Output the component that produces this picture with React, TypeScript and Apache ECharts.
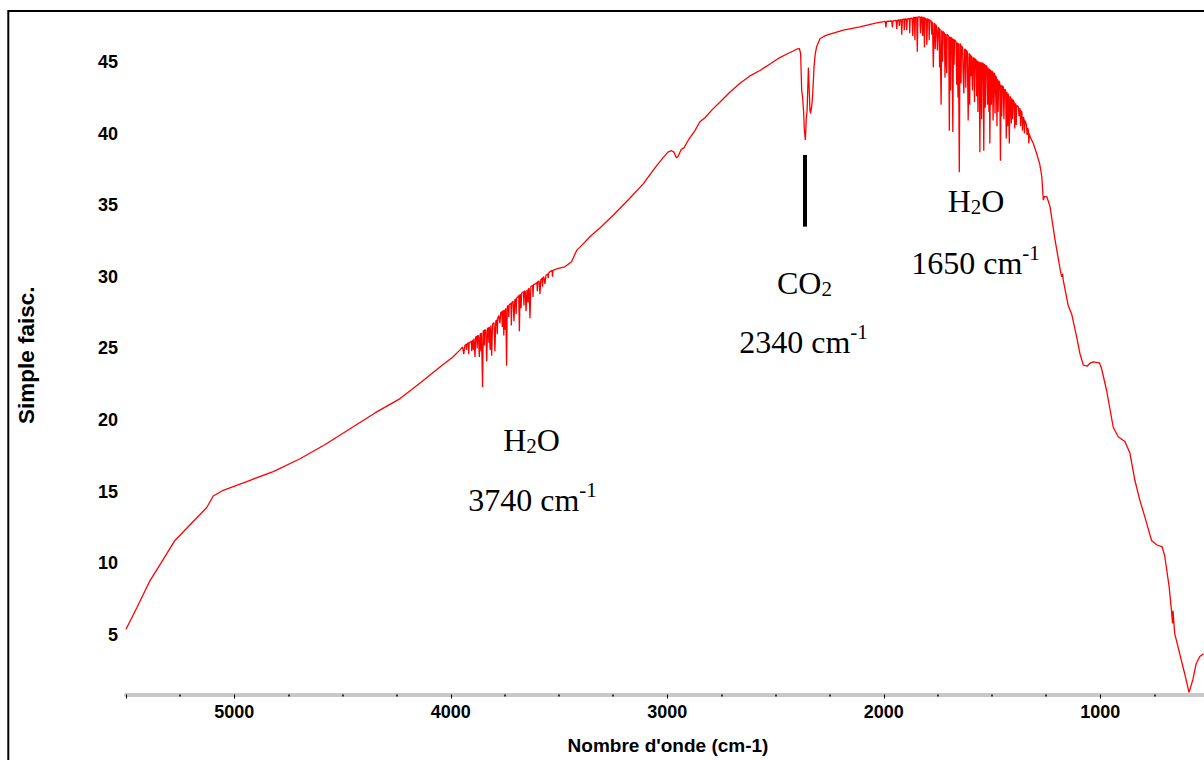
import React, { useEffect, useRef } from 'react';
import * as echarts from 'echarts';

// ---- Spectrum data: [wavenumber (cm-1), single-beam intensity] ----
const highWaveRegion: number[][] = [
  [5500, 5.4], [5450, 6.9], [5389, 8.8], [5335, 10.1], [5274, 11.6], [5204, 12.7],
  [5127, 13.9], [5097, 14.7], [5051, 15.1], [4927, 15.8], [4820, 16.4], [4696, 17.3],
  [4580, 18.3], [4465, 19.4], [4350, 20.5], [4234, 21.5], [4140, 22.6], [4050, 23.7],
  [3990, 24.4], [3957, 24.9],
];

const waterStretchRegion: number[][] = [
  [3945, 25.1], [3940, 24.6], [3935, 25.2], [3929, 25.3], [3927, 24.9], [3925, 25.3],
  [3919, 25.4], [3917, 24.6], [3915, 25.4], [3905, 25.5], [3903, 24.8], [3900, 25.6],
  [3897, 25.6], [3895, 24.9], [3893, 25.7], [3890, 25.7], [3888, 24.4], [3885, 25.8],
  [3880, 25.85], [3878, 25.0], [3876, 25.9], [3872, 25.9], [3868, 24.4], [3864, 26.0],
  [3862, 26.05], [3860, 24.8], [3858, 26.1], [3856, 26.1], [3853, 22.3], [3850, 26.2],
  [3847, 26.25], [3845, 25.2], [3843, 26.3], [3838, 26.3], [3834, 24.1], [3830, 26.4],
  [3826, 26.45], [3824, 25.4], [3822, 26.5], [3820, 26.5], [3818, 24.9], [3815, 26.6],
  [3811, 24.5], [3807, 26.7], [3800, 26.8], [3796, 24.8], [3792, 26.9], [3787, 27.0],
  [3785, 26.0], [3783, 27.1], [3778, 27.3], [3773, 26.75], [3769, 27.5], [3764, 27.55],
  [3762, 26.5], [3760, 27.6], [3757, 27.65], [3755, 25.9], [3752, 27.7], [3749, 26.3],
  [3746, 27.8], [3744, 27.8], [3742, 23.8], [3739, 27.9], [3734, 28.0], [3732, 27.2],
  [3730, 28.05], [3725, 28.1], [3722, 28.15], [3720, 26.6], [3718, 28.2], [3712, 28.3],
  [3708, 26.9], [3704, 28.4], [3700, 28.45], [3698, 27.4], [3696, 28.5], [3690, 28.6],
  [3686, 28.7], [3683, 26.2], [3680, 28.8], [3677, 28.8], [3675, 27.8], [3673, 28.85],
  [3668, 28.9], [3664, 28.95], [3662, 28.0], [3660, 29.0], [3656, 29.0], [3652, 27.6],
  [3648, 29.1], [3645, 29.1], [3643, 28.2], [3641, 29.15], [3638, 29.2], [3634, 27.1],
  [3630, 29.3], [3622, 29.4], [3620, 28.6], [3618, 29.45], [3610, 29.5], [3602, 29.6],
  [3600, 29.0], [3598, 29.65], [3592, 29.7], [3588, 28.8], [3584, 29.8], [3578, 29.9],
  [3576, 29.3], [3574, 29.95], [3570, 30.0], [3565, 29.5], [3560, 30.1], [3552, 30.2],
  [3550, 29.9], [3548, 30.25], [3542, 30.35], [3532, 30.45], [3530, 30.0], [3528, 30.45],
  [3520, 30.5], [3503, 30.58], [3473, 30.7], [3442, 31.05], [3418, 31.86],
];

const midRegion: number[][] = [
  [3403, 32.07], [3350, 32.9], [3311, 33.4], [3250, 34.3], [3172, 35.5], [3110, 36.5],
  [3057, 37.6], [3020, 38.3], [2997, 38.7], [2980, 38.8], [2969, 38.7], [2958, 38.3],
  [2950, 38.4], [2935, 38.9], [2923, 39.0], [2900, 39.6], [2872, 40.2], [2850, 40.8],
  [2826, 41.1], [2790, 41.7], [2756, 42.2], [2710, 42.9], [2664, 43.5], [2620, 44.0],
  [2572, 44.4], [2520, 44.9], [2480, 45.3], [2440, 45.6], [2400, 45.9],
];

const co2Region: number[][] = [
  [2390, 45.93], [2384, 45.6], [2379, 43.0], [2375, 42.56], [2370, 41.5], [2367, 40.35],
  [2362, 39.54], [2358, 41.0], [2354, 41.63], [2348, 44.6], [2344, 43.0], [2341, 41.63],
  [2338, 41.4], [2332, 42.0], [2328, 42.8], [2322, 44.65], [2316, 45.6], [2310, 46.05],
  [2294, 46.63], [2264, 46.86], [2187, 47.21], [2110, 47.44], [2033, 47.72],
];

const waterBendRegion: number[][] = [
  [2000, 47.8], [1993, 47.82], [1990, 47.4], [1987, 47.83], [1963, 47.85], [1960, 47.4],
  [1957, 47.86], [1943, 47.9], [1940, 47.3], [1937, 47.9], [1930, 47.92], [1928, 47.5],
  [1926, 47.93], [1920, 47.95], [1917, 46.9], [1914, 47.97], [1907, 47.98], [1905, 47.2],
  [1903, 47.99], [1897, 48.0], [1894, 47.2], [1891, 48.0], [1882, 48.02], [1880, 47.0],
  [1878, 48.03], [1869, 48.05], [1866, 46.8], [1863, 48.1], [1858, 48.1], [1856, 46.5],
  [1854, 48.11], [1848, 48.12], [1845, 45.7], [1842, 48.14], [1833, 48.14], [1830, 47.0],
  [1827, 48.13], [1823, 48.12], [1820, 46.8], [1817, 48.1], [1814, 48.08], [1812, 46.0],
  [1810, 48.06], [1804, 48.0], [1801, 46.2], [1798, 48.0], [1792, 47.95], [1790, 46.5],
  [1788, 47.92], [1781, 47.85], [1778, 46.9], [1775, 47.8], [1771, 44.6], [1767, 47.7],
  [1764, 47.65], [1762, 45.9], [1760, 47.6], [1756, 47.5], [1752, 45.8], [1748, 47.4],
  [1744, 47.35], [1742, 44.6], [1740, 47.3], [1738, 47.3], [1735, 42.0], [1732, 47.2],
  [1730, 47.18], [1728, 45.0], [1726, 47.12], [1720, 47.0], [1717, 43.9], [1714, 46.95],
  [1711, 46.95], [1709, 44.2], [1707, 46.92], [1700, 46.8], [1697, 40.2], [1694, 46.75],
  [1693, 46.72], [1691, 43.0], [1689, 46.7], [1684, 46.65], [1681, 40.1], [1678, 46.6],
  [1677, 46.58], [1675, 44.8], [1673, 46.55], [1666, 46.4], [1663, 43.4], [1660, 46.35],
  [1659, 46.33], [1657, 42.5], [1655, 46.3], [1654, 46.3], [1651, 37.3], [1648, 46.28],
  [1645, 46.2], [1643, 43.5], [1641, 46.12], [1636, 46.0], [1633, 44.0], [1630, 42.8],
  [1627, 45.9], [1623, 45.87], [1621, 43.2], [1619, 45.82], [1614, 45.7], [1610, 40.9],
  [1606, 45.6], [1605, 45.55], [1603, 42.0], [1601, 45.5], [1598, 45.45], [1596, 44.0],
  [1594, 45.42], [1592, 45.4], [1590, 43.0], [1587, 45.3], [1583, 45.25], [1581, 42.2],
  [1579, 45.22], [1574, 45.15], [1571, 42.6], [1568, 45.1], [1567, 45.08], [1565, 41.5],
  [1563, 45.02], [1559, 44.95], [1556, 38.7], [1553, 44.95], [1550, 44.93], [1548, 41.0],
  [1546, 44.92], [1541, 44.9], [1538, 38.8], [1535, 44.85], [1533, 44.8], [1531, 41.8],
  [1529, 44.75], [1524, 44.7], [1521, 42.0], [1518, 44.6], [1516, 44.58], [1514, 41.5],
  [1512, 44.52], [1510, 39.3], [1507, 44.45], [1505, 44.42], [1503, 42.0], [1501, 44.38],
  [1498, 44.3], [1495, 40.9], [1492, 44.25], [1488, 44.15], [1486, 41.4], [1484, 44.05],
  [1480, 43.9], [1478, 43.87], [1477, 40.5], [1475, 43.8], [1472, 41.5], [1469, 43.7],
  [1464, 43.5], [1461, 38.1], [1458, 43.4], [1457, 43.38], [1455, 41.2], [1453, 43.33],
  [1448, 43.26], [1445, 41.0], [1442, 43.1], [1437, 43.0], [1434, 39.65], [1431, 42.9],
  [1430, 42.88], [1428, 40.5], [1426, 42.78], [1424, 42.7], [1420, 39.3], [1417, 42.6],
  [1414, 42.5], [1411, 40.7], [1408, 42.45], [1407, 42.42], [1405, 41.0], [1403, 42.36],
  [1398, 42.2], [1395, 40.35], [1392, 42.1], [1390, 42.05], [1388, 40.6], [1386, 41.95],
  [1378, 41.85], [1375, 41.2], [1372, 41.75], [1370, 41.7], [1368, 40.5], [1366, 41.58],
  [1362, 41.5], [1359, 40.2], [1356, 41.16], [1352, 41.0], [1350, 40.0], [1348, 40.9],
  [1345, 40.8], [1341, 40.6], [1338, 39.9], [1335, 40.4], [1332, 40.2], [1330, 39.3],
  [1328, 40.0], [1325, 39.8], [1309, 39.3], [1294, 38.6], [1280, 37.9], [1270, 37.0],
];

const lowWaveRegion: number[][] = [
  [1263, 35.35], [1258, 35.6], [1247, 35.6], [1232, 34.9], [1209, 32.6], [1185, 30.5],
  [1178, 30.0], [1174, 30.2], [1171, 29.77], [1148, 28.0], [1132, 27.4], [1109, 25.8],
  [1094, 24.65], [1078, 23.84], [1060, 23.77], [1045, 24.0], [1032, 24.07], [1004, 24.0],
  [994, 23.6], [971, 22.1], [940, 19.5], [917, 18.84], [886, 18.5], [863, 17.7],
  [840, 15.8], [817, 14.4], [794, 13.25], [763, 11.6], [740, 11.3], [714, 11.16],
  [702, 10.5], [682, 8.4], [671, 6.7], [666, 5.8], [664, 6.7], [656, 5.1], [633, 3.7],
  [610, 2.3], [590, 1.0], [572, 1.9], [557, 3.0], [540, 3.5], [523, 3.7],
];

// CO2 marker bar, in data units
const co2MarkerWavenumber = 2365;
const co2MarkerRange = [38.5, 33.5];

// Axis ranges
const xRange = [0, 5500];
const yRange = [0.85, 48.2];

// Annotation texts: [text, kind]
const annotationTexts: [string, string][][] = [
  [['H', 'n'], ['2', 'sub'], ['O', 'n']],
  [['3740 cm', 'n'], ['-1', 'sup']],
  [['CO', 'n'], ['2', 'sub']],
  [['2340 cm', 'n'], ['-1', 'sup']],
  [['H', 'n'], ['2', 'sub'], ['O', 'n']],
  [['1650 cm', 'n'], ['-1', 'sup']],
];
// layout (pixel centres) of the annotations
const annotationCenters = [
  [531.5, 440], [532.5, 500], [804.5, 283], [803.5, 342], [976, 201], [975.5, 263],
];

const SANS = '"Liberation Sans", Arial, sans-serif';
const SERIF = '"Liberation Serif", "Times New Roman", serif';
const MAIN_SIZE = 32;
const SMALL_SIZE = 21;
const CHART_W = 1330;

function buildAnnotation(parts: [string, string][], cx: number, cy: number) {
  const ctx = document.createElement('canvas').getContext('2d')!;
  const widths = parts.map(([t, k]) => {
    ctx.font = `${k === 'n' ? MAIN_SIZE : SMALL_SIZE}px ${SERIF}`;
    return ctx.measureText(t).width;
  });
  const total = widths.reduce((a, b) => a + b, 0);
  let x = cx - total / 2;
  return parts.map(([t, k], i) => {
    const el = {
      type: 'text',
      x,
      y: cy + (k === 'sub' ? 5.5 : k === 'sup' ? -10 : 0),
      silent: true,
      style: {
        text: t,
        fill: '#000',
        fontSize: k === 'n' ? MAIN_SIZE : SMALL_SIZE,
        fontFamily: SERIF,
        align: 'left',
        verticalAlign: 'middle',
      },
    };
    x += widths[i];
    return el;
  });
}

export default function App() {
  const ref = useRef<HTMLDivElement>(null);

  useEffect(() => {
    document.body.style.margin = '0';
    const chart = echarts.init(ref.current!, null, { renderer: 'svg' });
    const data = [
      ...highWaveRegion,
      ...waterStretchRegion,
      ...midRegion,
      ...co2Region,
      ...waterBendRegion,
      ...lowWaveRegion,
    ];

    const graphics: any[] = [
      {
        type: 'rect',
        silent: true,
        shape: { x: 8.3, y: 11, width: 1300, height: 800 },
        style: { fill: 'transparent', stroke: '#000', lineWidth: 2 },
      },
      {
        type: 'text',
        x: 668,
        y: 745,
        silent: true,
        style: {
          text: "Nombre d'onde (cm-1)",
          fill: '#000',
          fontSize: 19,
          fontWeight: 'bold',
          fontFamily: SANS,
          align: 'center',
          verticalAlign: 'middle',
        },
      },
    ];
    annotationTexts.forEach((parts, i) => {
      graphics.push(...buildAnnotation(parts, annotationCenters[i][0], annotationCenters[i][1]));
    });

    chart.setOption({
      animation: false,
      backgroundColor: '#ffffff',
      grid: { left: 126, top: 16, width: 1190.75, height: 678.5, outerBoundsMode: 'none' },
      xAxis: {
        type: 'value',
        inverse: true,
        min: xRange[0],
        max: xRange[1],
        interval: 1000,
        axisLine: { show: true, lineStyle: { color: '#c8c8c8', width: 4 } },
        axisTick: { show: true, length: 4, lineStyle: { color: '#000', width: 1 } },
        minorTick: { show: true, splitNumber: 4, length: 2, lineStyle: { color: '#000', width: 1.5 } },
        splitLine: { show: false },
        axisLabel: {
          margin: 8,
          color: '#000',
          fontSize: 18,
          fontWeight: 'bold',
          fontFamily: SANS,
          formatter: (v: number) => (v > 0 && v % 1000 === 0 ? String(v) : ''),
        },
      },
      yAxis: {
        type: 'value',
        min: yRange[0],
        max: yRange[1],
        splitNumber: 10,
        minInterval: 5,
        maxInterval: 5,
        name: 'Simple faisc.',
        nameLocation: 'middle',
        nameGap: 88,
        nameTextStyle: { color: '#000', fontSize: 22.5, fontWeight: 'bold', fontFamily: SANS },
        axisLine: { show: true, lineStyle: { color: '#c8c8c8', width: 4 } },
        axisTick: { show: true, length: 4, lineStyle: { color: '#000', width: 1 } },
        minorTick: { show: true, splitNumber: 5, length: 2, lineStyle: { color: '#000', width: 1.5 } },
        splitLine: { show: false },
        axisLabel: {
          margin: 8,
          color: '#000',
          fontSize: 18,
          fontWeight: 'bold',
          fontFamily: SANS,
          formatter: (v: number) => (Math.abs(v % 5) < 1e-9 && v > 0 ? String(v) : ''),
        },
      },
      series: [
        {
          type: 'line',
          data,
          showSymbol: false,
          symbol: 'none',
          silent: true,
          lineStyle: { color: '#ff0000', width: 1.3 },
          markLine: {
            silent: true,
            symbol: ['none', 'none'],
            label: { show: false },
            lineStyle: { color: '#000', width: 4, type: 'solid' },
            data: [[
              { coord: [co2MarkerWavenumber, co2MarkerRange[0]] },
              { coord: [co2MarkerWavenumber, co2MarkerRange[1]] },
            ]],
          },
        },
      ],
      graphic: graphics,
    });
    return () => chart.dispose();
  }, []);

  return (
    <div
      style={{ position: 'fixed', left: 0, top: 0, width: 1204, height: 760, overflow: 'hidden', background: '#fff' }}
    >
      <div ref={ref} style={{ width: CHART_W, height: 760 }} />
    </div>
  );
}
